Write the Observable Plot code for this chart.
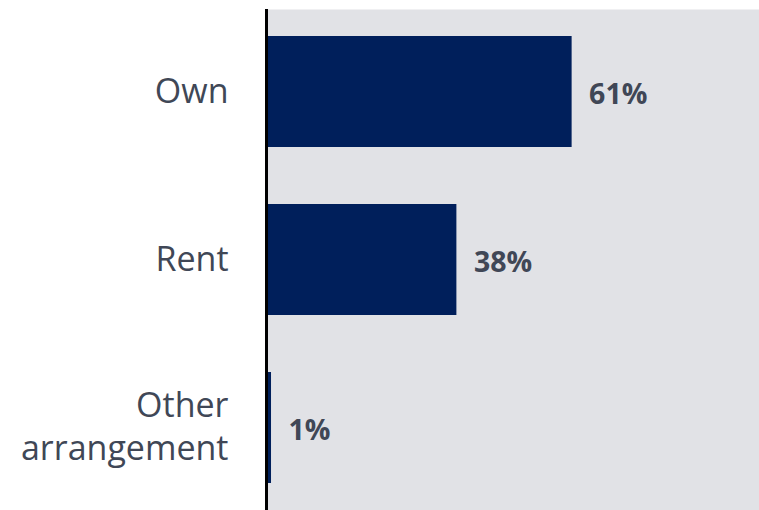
<!DOCTYPE html>
<html>
<head>
<meta charset="utf-8">
<script src="https://cdn.jsdelivr.net/npm/d3@7"></script>
<script src="https://cdn.jsdelivr.net/npm/@observablehq/plot@0.6"></script>
<style>
  html, body { margin: 0; padding: 0; background: #ffffff; }
  #chart svg { display: block; }
</style>
</head>
<body>
<div id="chart"></div>
<script>
const categories = ["Own", "Rent", "Other arrangement"];
const categoryLabels = ["Own", "Rent", "Other\narrangement"];
const values = [61, 38, 1];
const valueLabels = ["61%", "38%", "1%"];

const data = categories.map((c, i) => ({category: c, value: values[i], label: valueLabels[i]}));
const labelOf = new Map(categories.map((c, i) => [c, categoryLabels[i]]));

const chart = Plot.plot({
  width: 759,
  height: 510,
  marginLeft: 266,
  marginRight: 0,
  marginTop: 9,
  marginBottom: 0,
  style: {fontFamily: "'Open Sans', 'Noto Sans', sans-serif", background: "#ffffff"},
  x: {domain: [0, 98.4], axis: null},
  y: {domain: categories, paddingInner: 0.34, paddingOuter: 0.16, label: null},
  marks: [
    Plot.frame({fill: "#e1e2e6", stroke: null}),
    Plot.barX(data, {x: "value", y: "category", fill: "#001f5b"}),
    Plot.text(data, {x: "value", y: "category", text: "label", textAnchor: "start", dx: 17, dy: 3,
      fontSize: 28.5, fontWeight: "bold", fill: "#404756"}),
    Plot.axisY({tickSize: 0, tickPadding: 38, fontSize: 34, lineHeight: 1.25, dy: -3, color: "#404756",
      tickFormat: d => labelOf.get(d), label: null}),
    Plot.ruleX([0], {stroke: "#000000", strokeWidth: 3})
  ]
});
document.getElementById("chart").appendChild(chart);
</script>
</body>
</html>
